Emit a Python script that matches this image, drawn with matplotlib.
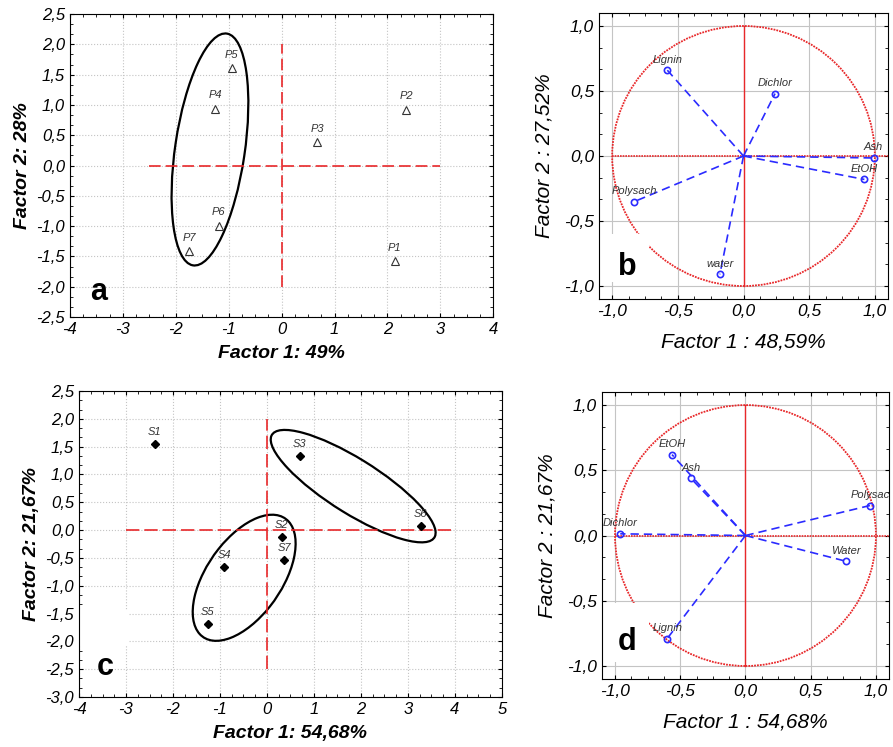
import matplotlib
matplotlib.use('Agg')
import matplotlib.pyplot as plt
from matplotlib.patches import Ellipse, Rectangle
from matplotlib.ticker import MultipleLocator, AutoMinorLocator, FuncFormatter

plt.rcParams['font.family'] = ['Liberation Sans', 'DejaVu Sans']

# panel a: scores P1..P7
p_names = ['P1', 'P2', 'P3', 'P4', 'P5', 'P6', 'P7']
p_f1 = [2.14, 2.35, 0.67, -1.26, -0.94, -1.19, -1.75]
p_f2 = [-1.58, 0.92, 0.39, 0.94, 1.61, -0.99, -1.41]

# panel b: loadings
b_vars = ['Lignin', 'Dichlor', 'Ash', 'EtOH', 'Polysach', 'water']
b_f1 = [-0.58, 0.24, 0.99, 0.92, -0.83, -0.18]
b_f2 = [0.66, 0.48, -0.015, -0.18, -0.35, -0.91]

# panel c: scores S1..S7
s_names = ['S1', 'S2', 'S3', 'S4', 'S5', 'S6', 'S7']
s_f1 = [-2.39, 0.31, 0.70, -0.91, -1.26, 3.27, 0.37]
s_f2 = [1.545, -0.13, 1.34, -0.66, -1.69, 0.08, -0.545]

# panel d: loadings
d_vars = ['EtOH', 'Ash', 'Polysac', 'Dichlor', 'Water', 'Lignin']
d_f1 = [-0.563, -0.42, 0.954, -0.96, 0.77, -0.60]
d_f2 = [0.62, 0.44, 0.23, 0.013, -0.197, -0.79]

RED = '#e8282a'
BLUE = '#2b2bff'


def comma(dec):
    def f(v, pos):
        if abs(v) < 1e-9:
            v = 0.0
        return f'{v:.{dec}f}'.replace('.', ',')
    return FuncFormatter(f)


def style(ax, xdec, ydec, fs, grid_ls):
    ax.xaxis.set_major_formatter(comma(xdec))
    ax.yaxis.set_major_formatter(comma(ydec))
    ax.xaxis.set_minor_locator(AutoMinorLocator(4))
    ax.yaxis.set_minor_locator(AutoMinorLocator(3))
    ax.tick_params(which='both', direction='in', top=True, right=True)
    ax.tick_params(which='major', length=3, labelsize=fs)
    ax.tick_params(which='minor', length=2.5)
    for lab in ax.get_xticklabels() + ax.get_yticklabels():
        lab.set_fontstyle('italic')
    ax.grid(True, color='#c4c4c4', ls=grid_ls, lw=0.8)
    ax.set_axisbelow(True)


fig = plt.figure(figsize=(8.93, 7.47), dpi=100)

# ---- a ----
ax = fig.add_axes([0.0784, 0.5756, 0.474, 0.4056])
ax.set_xlim(-4, 4)
ax.set_ylim(-2.5, 2.5)
ax.xaxis.set_major_locator(MultipleLocator(1))
ax.yaxis.set_major_locator(MultipleLocator(0.5))
style(ax, 0, 1, 12, ':')
ax.plot([-2.5, 3], [0, 0], color=RED, lw=1.2, dashes=(7, 3))
ax.plot([0, 0], [-2, 2], color=RED, lw=1.2, dashes=(7, 3))
ax.plot(p_f1, p_f2, ls='none', marker='^', ms=6, mfc='none', mec='#333333', mew=0.8)
for n, x, y in zip(p_names, p_f1, p_f2):
    ax.annotate(n, (x, y), xytext=(0, 6), textcoords='offset points', ha='center',
                va='bottom', fontsize=8, style='italic', color='#333333')
ax.add_patch(Ellipse((-1.355, 0.265), 3.878, 1.314, angle=80.3, fill=False, ec='black', lw=1.6))
ax.text(-3.46, -2.08, 'a', fontsize=22, fontweight='bold', ha='center', va='center')
ax.set_xlabel('Factor 1: 49%', fontsize=14, fontweight='bold', style='italic', labelpad=6)
ax.set_ylabel('Factor 2: 28%', fontsize=14, fontweight='bold', style='italic', labelpad=4)


def loading_panel(rect, names, f1, f2, xlabel, ylabel, letter, letter_xy, patch):
    ax = fig.add_axes(rect)
    ax.set_xlim(-1.1, 1.1)
    ax.set_ylim(-1.1, 1.1)
    ax.xaxis.set_major_locator(MultipleLocator(0.5))
    ax.yaxis.set_major_locator(MultipleLocator(0.5))
    style(ax, 1, 1, 12.5, '-')
    ax.add_patch(Ellipse((0, 0), 2, 2, fill=False, ec=RED, lw=1.3, ls=(0, (1, 0.6))))
    ax.plot([-1, 1.1], [0, 0], color=RED, lw=1.2, ls=(0, (1, 0.6)))
    ax.plot([0, 0], [-1, 1], color=RED, lw=1.0)
    ax.add_patch(Rectangle(patch[0], patch[1], patch[2], fc='white', ec='none', zorder=1.5))
    for n, x, y in zip(names, f1, f2):
        ax.plot([0, x], [0, y], color=BLUE, lw=1.2, dashes=(5, 3))
        ax.plot(x, y, marker='o', ms=4.5, mfc='none', mec=BLUE, mew=1.2)
        ax.annotate(n, (x, y), xytext=(0, 4), textcoords='offset points', ha='center',
                    va='bottom', fontsize=8, style='italic', color='#333333')
    ax.text(letter_xy[0], letter_xy[1], letter, fontsize=22, fontweight='bold',
            ha='center', va='center')
    ax.set_xlabel(xlabel, fontsize=15, style='italic', labelpad=10)
    ax.set_ylabel(ylabel, fontsize=15, style='italic', labelpad=8)
    return ax


loading_panel([0.6708, 0.5997, 0.3236, 0.3829], b_vars, b_f1, b_f2,
              'Factor 1 : 48,59%', 'Factor 2 : 27,52%', 'b', (-0.885, -0.85),
              ((-1.1, -0.97), 0.38, 0.37))

# ---- c ----
ax = fig.add_axes([0.0885, 0.0669, 0.4735, 0.4097])
ax.set_xlim(-4, 5)
ax.set_ylim(-3, 2.5)
ax.xaxis.set_major_locator(MultipleLocator(1))
ax.yaxis.set_major_locator(MultipleLocator(0.5))
style(ax, 0, 1, 12, ':')
ax.plot([-3, 4], [0, 0], color=RED, lw=1.2, dashes=(8, 3))
ax.plot([0, 0], [-2.5, 2.0], color=RED, lw=1.2, dashes=(8, 3))
ax.add_patch(Rectangle((-3.98, -2.08), 1.03, 0.65, fc='white', ec='none', zorder=1.5))
ax.plot(s_f1, s_f2, ls='none', marker='D', ms=4.5, mfc='black', mec='black')
for n, x, y in zip(s_names, s_f1, s_f2):
    ax.annotate(n, (x, y), xytext=(0, 5), textcoords='offset points', ha='center',
                va='bottom', fontsize=8, style='italic', color='#333333')
ax.add_patch(Ellipse((1.835, 0.79), 3.922, 1.01, angle=-27.5, fill=False, ec='black', lw=1.6))
ax.add_patch(Ellipse((-0.485, -0.857), 2.77, 1.504, angle=46.8, fill=False, ec='black', lw=1.6))
ax.text(-3.45, -2.46, 'c', fontsize=22, fontweight='bold', ha='center', va='center')
ax.set_xlabel('Factor 1: 54,68%', fontsize=14, fontweight='bold', style='italic', labelpad=6)
ax.set_ylabel('Factor 2: 21,67%', fontsize=14, fontweight='bold', style='italic', labelpad=4)

loading_panel([0.6741, 0.091, 0.3214, 0.3842], d_vars, d_f1, d_f2,
              'Factor 1 : 54,68%', 'Factor 2 : 21,67%', 'd', (-0.91, -0.815),
              ((-1.1, -0.97), 0.36, 0.45))

fig.savefig('out.png', dpi=100)
